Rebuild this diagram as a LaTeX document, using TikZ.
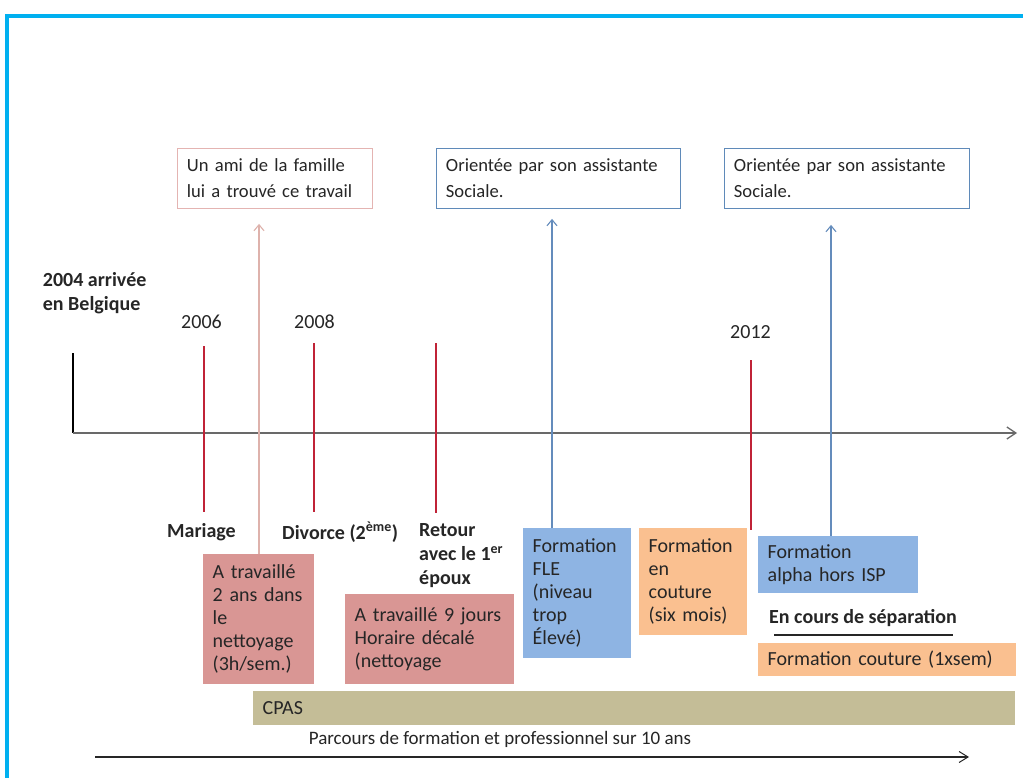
\documentclass[tikz,border=0pt]{standalone}
\usepackage{fontspec}
\setmainfont{Carlito}
\usetikzlibrary{arrows.meta,calc}

\definecolor{frameblue}{RGB}{0,176,240}
\definecolor{ink}{RGB}{38,38,38}
\definecolor{pinkline}{RGB}{228,180,178}
\definecolor{blueline}{RGB}{95,138,185}
\definecolor{pinkfill}{RGB}{217,150,148}
\definecolor{bluefill}{RGB}{142,180,227}
\definecolor{orangefill}{RGB}{250,192,144}
\definecolor{cpasfill}{RGB}{196,189,151}
\definecolor{tickred}{RGB}{192,35,55}
\definecolor{pinkarrow}{RGB}{222,178,172}
\definecolor{bluearrow}{RGB}{100,140,188}
\definecolor{axisgray}{RGB}{105,105,105}

\hyphenpenalty=10000
\exhyphenpenalty=10000

\begin{document}
\begin{tikzpicture}[x=1pt,y=-1pt,
  box/.style={anchor=north west, inner xsep=9.5pt, inner ysep=0pt, align=left,
              text=ink, font=\fontsize{20}{23}\selectfont},
  boxdim/.style 2 args={minimum width=#1pt, minimum height=#2pt, text width=#1pt-19pt},
  topbox/.style={box, fill=white, line width=0.9pt, font=\fontsize{18.6}{26}\selectfont},
  lab/.style={anchor=west, inner sep=0pt, align=left, text=ink,
              font=\bfseries\fontsize{20}{24}\selectfont},
  yearlab/.style={inner sep=0pt, text=ink, font=\fontsize{20}{24}\selectfont},
  tick/.style={draw=tickred, line width=1.4pt},
  uparrow/.style={line width=1.3pt, -{Straight Barb[length=6pt,width=10pt,line width=1.1pt]}},
  axisline/.style={draw=axisgray, line width=1.8pt, -{Straight Barb[length=9pt,width=12pt,line width=1.3pt]}}
]
\clip (0,0) rectangle (1023,778);
\fill[white] (0,0) rectangle (1023,778);

% outer frame (runs past the right and bottom edges)
\draw[frameblue, line width=3.2pt] (7,16) rectangle (1080,830);

% time axis
\coordinate (orig) at (73,433);
\coordinate (axend) at (1017,433);
\coordinate (vtop) at (73,353);
\draw[black, line width=1.2pt] (vtop) -- (orig);
\draw[axisline] (orig) -- (axend);

% starting label and years
\node[lab] (arrivee) at (42.7,293.5) {2004 arrivée\\en Belgique};
\node[yearlab] (y06) at (201.5,322) {2006};
\node[yearlab] (y08) at (314.5,322) {2008};
\node[yearlab] (y12) at (750.5,332) {2012};

% event markers
\coordinate (m1a) at (204,346); \coordinate (m1b) at (204,512);
\coordinate (m2a) at (314,343); \coordinate (m2b) at (314,512);
\coordinate (m3a) at (436,343); \coordinate (m3b) at (436,513);
\coordinate (m4a) at (751,360); \coordinate (m4b) at (751,530);
\draw[tick] (m1a) -- (m1b);
\draw[tick] (m2a) -- (m2b);
\draw[tick] (m3a) -- (m3b);
\draw[tick] (m4a) -- (m4b);

% events below the axis
\node[lab] (mariage) at (167,532) {Mariage};
\node[lab] (divorce) at (282,532) {Divorce (2\textsuperscript{ème})};
\node[lab] (retour) at (419,556) {Retour\\avec le 1\textsuperscript{er}\\époux};
\node[lab] (separation) at (769,618) {En cours de séparation};
\coordinate (ula) at (774,635); \coordinate (ulb) at (953,635);
\draw[ink, line width=1.4pt] (ula) -- (ulb);

% explanation boxes on top
\node[topbox, draw=pinkline, boxdim={195}{60}] (t1) at (177,148)
  {Un ami de la famille\\lui a trouvé ce travail};
\node[topbox, draw=blueline, boxdim={244}{60}] (t2) at (436,148)
  {Orientée par son assistante\\Sociale.};
\node[topbox, draw=blueline, boxdim={245}{60}] (t3) at (724,148)
  {Orientée par son assistante\\Sociale.};

% jobs and trainings
\node[box, fill=pinkfill, boxdim={111}{130}] (job1) at (203,554)
  {A travaillé\\2 ans dans\\le\\nettoyage\\(3h/sem.)};
\node[box, fill=pinkfill, boxdim={169}{90}] (job2) at (345,594)
  {A travaillé 9 jours\\Horaire décalé\\(nettoyage};
\node[box, fill=bluefill, boxdim={108}{130}] (fle) at (523,528)
  {Formation\\FLE\\(niveau\\trop\\Élevé)};
\node[box, fill=orangefill, boxdim={108}{107}] (couture) at (639,528)
  {Formation\\en\\couture\\(six mois)};
\node[box, fill=bluefill, boxdim={160}{57}] (alpha) at (758,536)
  {Formation\\alpha hors ISP};
\node[box, fill=orangefill, boxdim={258}{33}] (couture2) at (758,643)
  {Formation couture (1xsem)};
\node[box, fill=cpasfill, boxdim={762}{34}] (cpas) at (253,691) {CPAS};

% links to the explanation boxes
\draw[uparrow, pinkarrow] ($(job1.north west)+(56,0)$) -- ($(t1.south west)+(82,15)$);
\draw[uparrow, bluearrow] ($(fle.north west)+(29,0)$) -- ($(t2.south west)+(116,10)$);
\draw[uparrow, bluearrow] ($(alpha.north west)+(73,0)$) -- ($(t3.south west)+(107,16)$);

% overall span
\coordinate (spana) at (95,757);
\coordinate (spanb) at (969,757);
\draw[ink, line width=1.1pt, -{Straight Barb[length=9pt,width=11pt,line width=1pt]}] (spana) -- (spanb);
\node[yearlab, font=\fontsize{19}{22}\selectfont] (parcours) at (500,739)
  {Parcours de formation et professionnel sur 10 ans};
\end{tikzpicture}
\end{document}
